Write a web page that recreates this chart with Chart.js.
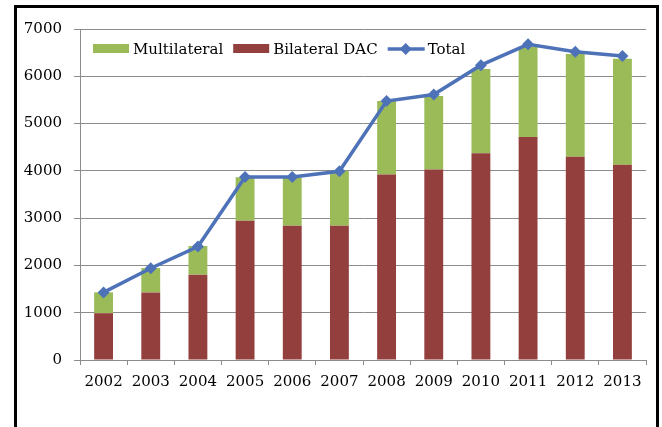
<!DOCTYPE html>
<html>
<head>
<meta charset="utf-8">
<script src="https://cdn.jsdelivr.net/npm/chart.js@4"></script>
<style>
  html, body { margin: 0; padding: 0; background: #ffffff; }
  #wrap { position: relative; width: 662px; height: 427px; }
</style>
</head>
<body>
<div id="wrap"><canvas id="c" width="662" height="427"></canvas></div>
<script>
// ---- data ----
const years = ['2002','2003','2004','2005','2006','2007','2008','2009','2010','2011','2012','2013'];
const bilateralDAC = [990, 1430, 1805, 2945, 2840, 2840, 3925, 4030, 4370, 4715, 4300, 4130];
const multilateral = [440, 515, 605, 920, 1025, 1160, 1550, 1555, 1785, 1910, 2170, 2240];
const total = [1430, 1940, 2400, 3870, 3870, 3990, 5475, 5615, 6235, 6675, 6520, 6430];
const yTicks = [0, 1000, 2000, 3000, 4000, 5000, 6000, 7000];

// ---- styles ----
const FONT = 'DejaVu Serif';
const GREEN = '#9BBB59';
const RED = '#923F3D';
const BLUE = '#4E72B8';
const GRID = '#8C8C8C';

const framePlugin = {
  id: 'frame',
  beforeDraw(chart) {
    const ctx = chart.ctx;
    ctx.save();
    ctx.fillStyle = '#ffffff';
    ctx.fillRect(0, 0, chart.width, chart.height);
    ctx.strokeStyle = '#000000';
    ctx.lineWidth = 3;
    ctx.beginPath();
    ctx.moveTo(15.5, 440);
    ctx.lineTo(15.5, 6.5);
    ctx.lineTo(657.5, 6.5);
    ctx.lineTo(657.5, 440);
    ctx.stroke();
    ctx.restore();
  }
};

const legendPlugin = {
  id: 'customLegend',
  afterDraw(chart) {
    const ctx = chart.ctx;
    const ca = chart.chartArea;
    ctx.save();
    ctx.font = '15px "' + FONT + '"';
    ctx.textBaseline = 'middle';
    ctx.textAlign = 'left';
    const yMid = ca.top + 20;
    let x = ca.left + 13;
    const items = [
      { text: 'Multilateral', type: 'box', color: GREEN },
      { text: 'Bilateral DAC', type: 'box', color: RED },
      { text: 'Total', type: 'line', color: BLUE }
    ];
    items.forEach(it => {
      if (it.type === 'box') {
        ctx.fillStyle = it.color;
        ctx.fillRect(x, yMid - 5, 36, 9);
      } else {
        ctx.strokeStyle = it.color;
        ctx.lineWidth = 3.5;
        ctx.beginPath();
        ctx.moveTo(x, yMid);
        ctx.lineTo(x + 37, yMid);
        ctx.stroke();
        const cx = x + 18, r = 6;
        ctx.fillStyle = it.color;
        ctx.beginPath();
        ctx.moveTo(cx, yMid - r);
        ctx.lineTo(cx + r, yMid);
        ctx.lineTo(cx, yMid + r);
        ctx.lineTo(cx - r, yMid);
        ctx.closePath();
        ctx.fill();
      }
      x += 40;
      ctx.fillStyle = '#000000';
      ctx.fillText(it.text, x, yMid + 1);
      x += ctx.measureText(it.text).width + 10;
    });
    ctx.restore();
  }
};

new Chart(document.getElementById('c'), {
  data: {
    labels: years,
    datasets: [
      {
        type: 'line',
        label: 'Total',
        data: total,
        borderColor: BLUE,
        backgroundColor: BLUE,
        borderWidth: 3.5,
        pointStyle: 'rectRot',
        pointRadius: 6,
        pointBackgroundColor: BLUE,
        pointBorderColor: BLUE,
        pointBorderWidth: 0,
        tension: 0,
        order: 0
      },
      {
        type: 'bar',
        label: 'Bilateral DAC',
        data: bilateralDAC,
        backgroundColor: RED,
        stack: 's',
        order: 1,
        categoryPercentage: 1.0,
        barPercentage: 0.4
      },
      {
        type: 'bar',
        label: 'Multilateral',
        data: multilateral,
        backgroundColor: GREEN,
        stack: 's',
        order: 2,
        categoryPercentage: 1.0,
        barPercentage: 0.4
      }
    ]
  },
  options: {
    responsive: false,
    animation: false,
    devicePixelRatio: 1,
    layout: { padding: { left: 0, right: 16, top: 29, bottom: 27 } },
    plugins: {
      legend: { display: false },
      tooltip: { enabled: false }
    },
    scales: {
      x: {
        stacked: true,
        offset: true,
        grid: {
          offset: true,
          drawOnChartArea: false,
          drawTicks: true,
          tickLength: 5,
          color: GRID
        },
        border: { color: GRID, width: 1 },
        ticks: {
          color: '#000000',
          font: { family: FONT, size: 15 },
          padding: 8,
          maxRotation: 0,
          autoSkip: false
        },
        afterFit(scale) { scale.height = 40; }
      },
      y: {
        stacked: true,
        min: 0,
        max: 7000,
        afterBuildTicks(scale) { scale.ticks = yTicks.map(v => ({ value: v })); },
        grid: {
          color: GRID,
          drawTicks: true,
          tickLength: 6
        },
        border: { color: GRID, width: 1 },
        ticks: {
          color: '#000000',
          font: { family: FONT, size: 15 },
          padding: 12,
          callback: (v) => String(v)
        },
        afterFit(scale) { scale.width = 80; }
      }
    }
  },
  plugins: [framePlugin, legendPlugin]
});
</script>
</body>
</html>
